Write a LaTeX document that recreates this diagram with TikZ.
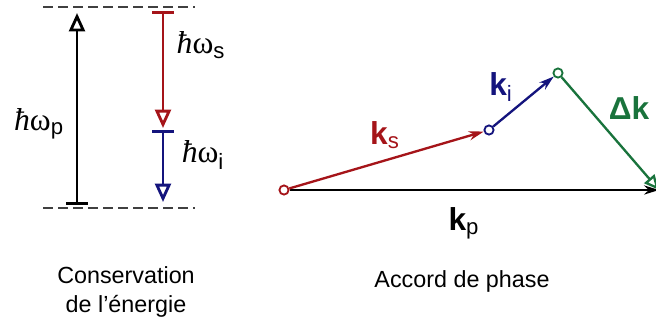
\documentclass[tikz,border=0pt]{standalone}
\usepackage{amsmath}
\usepackage{fontspec}
\setmainfont{Liberation Sans}
\newfontfamily\serifsym{Liberation Serif}
\usetikzlibrary{arrows.meta}
\definecolor{SignalRed}{RGB}{165,20,25}
\definecolor{IdlerBlue}{RGB}{20,20,125}
\definecolor{MismatchGreen}{RGB}{25,115,60}
\newcommand{\hw}{\text{\serifsym\itshape ħ\upshape ω}}

\begin{document}
\begin{tikzpicture}[x=0.6pt,y=-0.6pt,
    level/.style={draw=black!75,line width=1.1pt,dash pattern=on 6pt off 3pt},
    photon/.style={line width=1.7pt,
                   {Bar[width=13pt]}-{Triangle[open,length=11pt,width=9.5pt]}},
    wave/.style={line width=1.4pt,-{Stealth[length=9pt,width=5.5pt]}},
    dot/.style={circle,draw=#1,fill=white,line width=1.1pt,
                inner sep=0pt,minimum size=5.5pt},
    lbl/.style={font=\fontsize{19}{22}\selectfont,text=#1},
    caption/.style={font=\fontsize{14}{17}\selectfont,align=center}
  ]
  \useasboundingbox (0,0) rectangle (656,324);
  \clip (0,0) rectangle (656,324);

  % energy levels
  \coordinate (lvlTopL) at (43,7);
  \coordinate (lvlTopR) at (195,7);
  \coordinate (lvlBotL) at (43,208);
  \coordinate (lvlBotR) at (195,208);
  \draw[level] (lvlTopL) -- (lvlTopR);
  \draw[level] (lvlBotL) -- (lvlBotR);

  \coordinate (pBot) at (77,205);
  \coordinate (pTop) at (77,13);
  \coordinate (sTop) at (163,11);
  \coordinate (sBot) at (163,128);
  \coordinate (iTop) at (163,130);
  \coordinate (iBot) at (163,202);
  \draw[photon] (pBot) -- (pTop);
  \draw[photon,SignalRed] (sTop) -- (sBot);
  \draw[photon,IdlerBlue] (iTop) -- (iBot);

  \node[lbl=black] (labP) at (39,124) {$\hw_{\text{p}}$};
  \node[lbl=black] (labS) at (201,45) {$\hw_{\text{s}}$};
  \node[lbl=black] (labI) at (203,155) {$\hw_{\text{i}}$};

  % wave vectors
  \node[dot=SignalRed] (orig) at (284,190) {};
  \node[dot=IdlerBlue] (sEnd) at (489,130) {};
  \node[dot=MismatchGreen] (iEnd) at (558,73) {};
  \coordinate (pEnd) at (659,190);
  \draw[wave] (orig) -- (pEnd);
  \draw[wave,SignalRed] (orig) -- (sEnd);
  \draw[wave,IdlerBlue] (sEnd) -- (iEnd);
  \draw[MismatchGreen,line width=1.4pt,
        -{Triangle[open,length=9pt,width=8pt]}] (iEnd) -- (pEnd);

  \node[lbl=SignalRed] (labKs) at (385,135) {$\textbf{k}_{\text{s}}$};
  \node[lbl=IdlerBlue] (labKi) at (501,87) {$\textbf{k}_{\text{i}}$};
  \node[lbl=MismatchGreen] (labDk) at (629,108) {\textbf{Δk}};
  \node[lbl=black] (labKp) at (464,223) {$\textbf{k}_{\text{p}}$};

  \node[caption] (capEnergy) at (126,292) {Conservation\\de l’énergie};
  \node[caption] (capPhase) at (462,281) {Accord de phase};
\end{tikzpicture}
\end{document}
